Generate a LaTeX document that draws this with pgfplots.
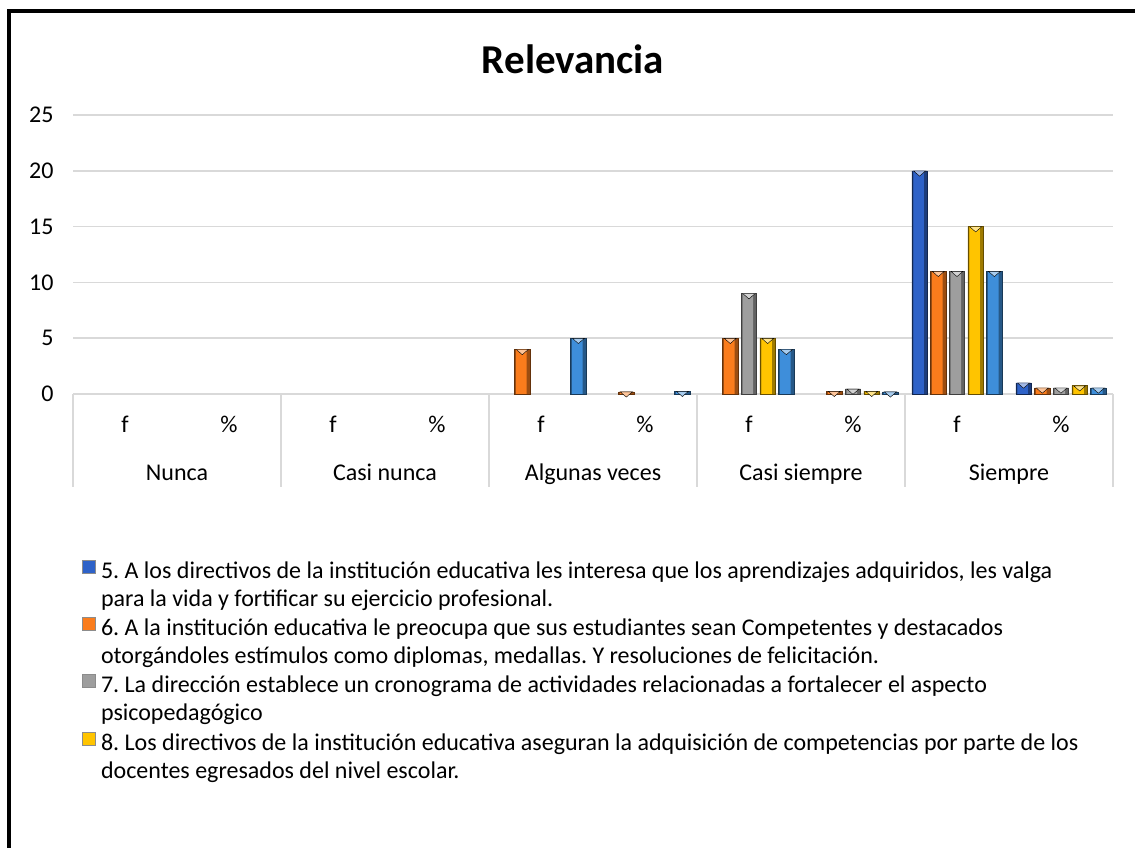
\documentclass[border=0pt]{standalone}
\usepackage{pgfplots}
\pgfplotsset{compat=1.18}
\usepackage{fontspec}
\setmainfont{Carlito}
\frenchspacing

\definecolor{sA}{RGB}{46,98,200}
\definecolor{sB}{RGB}{250,124,28}
\definecolor{sC}{RGB}{158,158,158}
\definecolor{sD}{RGB}{255,196,0}
\definecolor{sE}{RGB}{62,142,218}
\definecolor{gridc}{RGB}{217,217,217}

% bevelled bars: a dark outer bar, a bright inner bar and a flat light triangle on top
% #1 = bar shift, #2 = colour
\pgfplotsset{
  outer/.style n args={2}{ybar, bar width=15.5bp, bar shift=#1, forget plot,
    fill=#2!62!black, draw=#2!40!black, line width=0.5bp},
  inner/.style n args={2}{ybar, bar width=10.5bp, bar shift=#1-1bp, draw=none, fill=#2,
    mark=triangle*, mark size=6.9bp,
    mark options={xshift=#1, yshift=-1.9bp, rotate=180, yscale=0.5,
      draw=none, fill=#2!45!white}},
}

\begin{document}
\begin{tikzpicture}[font=\fontsize{24bp}{28bp}\selectfont]
\useasboundingbox (0bp,0bp) rectangle (1135bp,848bp);
\draw[line width=4bp] (9bp,0bp) -- (9bp,836.7bp) -- (1135bp,836.7bp);
\node[font=\fontsize{41bp}{44bp}\selectfont\bfseries] at (573bp,789bp) {Relevancia};

\begin{axis}[
  at={(73bp,454bp)}, anchor=south west,
  width=1040bp, height=279bp, scale only axis,
  xmin=-0.5, xmax=9.5, ymin=0, ymax=25,
  ytick={0,5,...,25},
  xtick={0,...,9},
  xticklabels={f,\%,f,\%,f,\%,f,\%,f,\%},
  xticklabel style={anchor=base, yshift=-39bp},
  yticklabel style={anchor=east, xshift=-16bp, /pgf/number format/assume math mode=true},
  ymajorgrids, grid style={gridc, line width=1.5bp},
  axis line style={draw=none},
  tick style={draw=none},
  clip=false,
  legend style={at={(0.0058,-0.586)}, anchor=north west, draw=none, fill=none,
    row sep=5bp, column sep=5bp,
    nodes={inner sep=0pt, text height=17bp, text depth=6bp},
    font=\fontsize{24bp}{28bp}\selectfont},
  legend cell align=left,
  legend image code/.code={
    \path[#1, draw=black!45, line width=0.8bp] (0bp,-0.5bp) rectangle (13bp,12.5bp);
  },
]
% 5.
\addplot[outer={-37.4bp}{sA}] coordinates {(8,20) (9,1)};
\addplot[inner={-37.4bp}{sA}] coordinates {(8,20) (9,1)};
\addlegendentry{5. A los directivos de la institución educativa les interesa que los aprendizajes adquiridos, les valga}
\addlegendimage{empty legend}
\addlegendentry{para la vida y fortificar su ejercicio profesional.}
% 6.
\addplot[outer={-18.7bp}{sB}] coordinates {(4,4) (5,0.2) (6,5) (7,0.25) (8,11) (9,0.55)};
\addplot[inner={-18.7bp}{sB}] coordinates {(4,4) (5,0.2) (6,5) (7,0.25) (8,11) (9,0.55)};
\addlegendentry{6. A la institución educativa le preocupa que sus estudiantes sean Competentes y destacados}
\addlegendimage{empty legend}
\addlegendentry{otorgándoles estímulos como diplomas, medallas. Y resoluciones de felicitación.}
% 7.
\addplot[outer={0bp}{sC}] coordinates {(6,9) (7,0.45) (8,11) (9,0.55)};
\addplot[inner={0bp}{sC}] coordinates {(6,9) (7,0.45) (8,11) (9,0.55)};
\addlegendentry{7. La dirección establece un cronograma de actividades relacionadas a fortalecer el aspecto}
\addlegendimage{empty legend}
\addlegendentry{psicopedagógico}
% 8.
\addplot[outer={18.7bp}{sD}] coordinates {(6,5) (7,0.25) (8,15) (9,0.75)};
\addplot[inner={18.7bp}{sD}] coordinates {(6,5) (7,0.25) (8,15) (9,0.75)};
\addlegendentry{8. Los directivos de la institución educativa aseguran la adquisición de competencias por parte de los}
\addlegendimage{empty legend}
\addlegendentry{docentes egresados del nivel escolar.}
% 9. (no legend entry)
\addplot[outer={37.4bp}{sE}] coordinates {(4,5) (5,0.25) (6,4) (7,0.2) (8,11) (9,0.55)};
\addplot[inner={37.4bp}{sE}, forget plot] coordinates {(4,5) (5,0.25) (6,4) (7,0.2) (8,11) (9,0.55)};

% category table under the axis
\pgfplotsinvokeforeach{-0.5,1.5,3.5,5.5,7.5,9.5}{
  \draw[gridc, line width=1.5bp] (axis cs:#1,0) -- ([yshift=-93bp]axis cs:#1,0);
}
\node[anchor=base] at ([yshift=-86bp]axis cs:0.5,0) {Nunca};
\node[anchor=base] at ([yshift=-86bp]axis cs:2.5,0) {Casi nunca};
\node[anchor=base] at ([yshift=-86bp]axis cs:4.5,0) {Algunas veces};
\node[anchor=base] at ([yshift=-86bp]axis cs:6.5,0) {Casi siempre};
\node[anchor=base] at ([yshift=-86bp]axis cs:8.5,0) {Siempre};
\end{axis}
\end{tikzpicture}
\end{document}
